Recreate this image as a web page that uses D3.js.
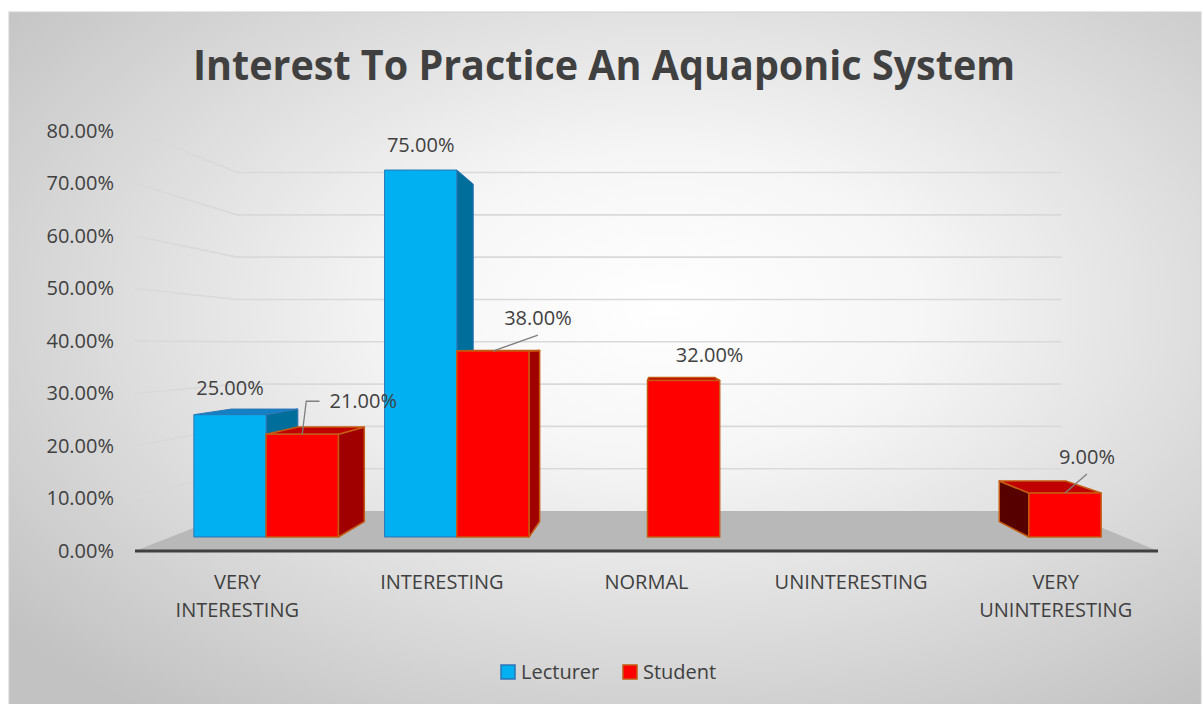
<!DOCTYPE html>
<html>
<head>
<meta charset="utf-8">
<script src="https://cdn.jsdelivr.net/npm/d3@7"></script>
<style>
  body { margin: 0; background: #fff; }
  text { font-family: 'Open Sans', sans-serif; fill: #404040; }
</style>
</head>
<body>
<div id="chart"></div>
<script>
// data
const categories = [['VERY', 'INTERESTING'], ['INTERESTING'], ['NORMAL'], ['UNINTERESTING'], ['VERY', 'UNINTERESTING']]
const seriesNames = ['Lecturer', 'Student']
const lecturer = [0.25, 0.75, null, null, null]
const student = [0.21, 0.38, 0.32, null, 0.09]
const yTicks = [0, 0.1, 0.2, 0.3, 0.4, 0.5, 0.6, 0.7, 0.8]

// label tweaks (offset from bar top, leader style)
const labelNudge = [
  [[0, -27], [0, -25], null, null, null],
  [[61, -33], [45, -33], [26, -25], null, [22, -36]]
]
const leaders = [
  [null, null, null, null, null],
  ['elbow', 'straight', null, null, 'straight']
]

const width = 1203
const height = 704

// fake 3d: everything is projected toward a vanishing point
const vp = {x: 661, y: 345}
const depth = {axis: 1, barFront: 0.932, barBack: 0.857, wall: 0.806}

function proj (X, Y, s) {
  return [vp.x + (X - vp.x) * s, vp.y + (Y - vp.y) * s]
}

const x0 = d3.scaleBand().domain(d3.range(categories.length)).range([135, 1158])
const x1 = d3.scaleBand().domain(seriesNames).range([0, x0.bandwidth()]).paddingInner(0).paddingOuter(0.32)
const y = d3.scaleLinear().domain([0, 0.8]).range([551, 131])
const fmt = d3.format('.2%')

const colors = {
  Lecturer: {front: '#00b0f0', right: '#006e9a', left: '#005a80', top: '#1380c4', stroke: '#2e75b6'},
  Student: {front: '#ff0000', right: '#a00000', left: '#560000', top: '#c00000', stroke: '#c55a11'}
}

const svg = d3.select('#chart').append('svg')
    .attr('width', width)
    .attr('height', height)
    .style('display', 'block')

const defs = svg.append('defs')
const grad = defs.append('radialGradient')
    .attr('id', 'bg')
    .attr('cx', '55%').attr('cy', '42%').attr('r', '72%')
grad.append('stop').attr('offset', '0%').attr('stop-color', '#ffffff')
grad.append('stop').attr('offset', '30%').attr('stop-color', '#f6f6f6')
grad.append('stop').attr('offset', '100%').attr('stop-color', '#c2c2c2')

svg.append('rect')
    .attr('x', 9).attr('y', 12)
    .attr('width', 1192).attr('height', 700)
    .attr('fill', 'url(#bg)')
    .attr('stroke', '#d0d0d0')

// title
svg.append('text')
    .attr('x', 604).attr('y', 80)
    .attr('text-anchor', 'middle')
    .attr('font-size', 42)
    .attr('font-weight', 'bold')
    .attr('textLength', 822)
    .attr('lengthAdjust', 'spacingAndGlyphs')
    .text('Interest To Practice An Aquaponic System')

const line = d3.line()
const left = x0.range()[0]
const right = x0.range()[1]

// gridlines on left wall and back wall
const grid = svg.append('g')
    .attr('fill', 'none')
    .attr('stroke', '#d9d9d9')
    .attr('stroke-width', 1.6)

grid.selectAll('path')
  .data(yTicks.filter(d => d > 0))
  .join('path')
    .attr('d', d => line([
      proj(left, y(d), depth.axis),
      proj(left, y(d), depth.wall),
      proj(right, y(d), depth.wall)
    ]))

// floor
svg.append('path')
    .attr('fill', '#b8b8b8')
    .attr('d', line([
      proj(left, y(0), depth.axis),
      proj(left, y(0), depth.wall),
      proj(right, y(0), depth.wall),
      proj(right, y(0), depth.axis)
    ]) + 'Z')

svg.append('line')
    .attr('x1', left).attr('x2', right)
    .attr('y1', y(0)).attr('y2', y(0))
    .attr('stroke', '#404040')
    .attr('stroke-width', 3)

// y axis labels
const yAxis = d3.axisLeft(y)
    .tickValues(yTicks)
    .tickFormat(fmt)
    .tickSize(0)
    .tickPadding(21)

svg.append('g')
    .attr('transform', `translate(${left},0)`)
    .call(yAxis)
    .call(g => g.select('.domain').remove())
    .selectAll('text')
    .attr('font-size', 20)
    .attr('font-family', null)
    .attr('fill', '#404040')

// category labels
svg.append('g').selectAll('text')
  .data(categories)
  .join('text')
    .attr('text-anchor', 'middle')
    .attr('font-size', 20)
    .attr('x', (d, i) => x0(i) + x0.bandwidth() / 2)
    .attr('y', 589)
  .selectAll('tspan')
  .data(d => d)
  .join('tspan')
    .attr('x', function () { return this.parentNode.getAttribute('x') })
    .attr('dy', (d, i) => i ? 28 : 0)
    .text(d => d)

// bars
const bars = []
;[lecturer, student].forEach((vals, si) => {
  const name = seriesNames[si]
  vals.forEach((v, ci) => {
    if (v == null) return
    const xl = x0(ci) + x1(name)
    const xr = xl + x1.bandwidth()
    bars.push({name, si, ci, v, xl, xr})
  })
})
bars.sort((a, b) => Math.abs((b.xl + b.xr) / 2 - vp.x) - Math.abs((a.xl + a.xr) / 2 - vp.x))

const barG = svg.append('g')
bars.forEach(b => {
  const c = colors[b.name]
  const yt = y(b.v)
  const y0 = y(0)
  const g = barG.append('g')
      .attr('stroke', c.stroke)
      .attr('stroke-width', b.name === 'Student' ? 1.5 : 1)
      .attr('stroke-linejoin', 'round')
  const face = (pts, fill) => g.append('path').attr('fill', fill).attr('d', line(pts) + 'Z')
  if (b.xr < vp.x) {
    face([proj(b.xr, y0, depth.barFront), proj(b.xr, yt, depth.barFront),
      proj(b.xr, yt, depth.barBack), proj(b.xr, y0, depth.barBack)], c.right)
  }
  if (b.xl > vp.x) {
    face([proj(b.xl, y0, depth.barFront), proj(b.xl, yt, depth.barFront),
      proj(b.xl, yt, depth.barBack), proj(b.xl, y0, depth.barBack)], c.left)
  }
  if (yt > vp.y) {
    face([proj(b.xl, yt, depth.barFront), proj(b.xr, yt, depth.barFront),
      proj(b.xr, yt, depth.barBack), proj(b.xl, yt, depth.barBack)], c.top)
  }
  face([proj(b.xl, y0, depth.barFront), proj(b.xl, yt, depth.barFront),
    proj(b.xr, yt, depth.barFront), proj(b.xr, y0, depth.barFront)], c.front)
})

// data labels with leader lines
const labelG = svg.append('g')
bars.forEach(b => {
  const nudge = labelNudge[b.si][b.ci]
  const top = proj((b.xl + b.xr) / 2, y(b.v), depth.barFront)
  const lx = top[0] + nudge[0]
  const ly = top[1] + nudge[1]
  const t = labelG.append('text')
      .attr('x', lx).attr('y', ly)
      .attr('dy', '0.35em')
      .attr('text-anchor', 'middle')
      .attr('font-size', 20)
      .text(fmt(b.v))
  const kind = leaders[b.si][b.ci]
  if (!kind) return
  const w = t.node().getComputedTextLength()
  let pts
  if (kind === 'elbow') {
    pts = [top, [top[0] + 4, ly], [lx - w / 2 - 10, ly]]
  } else {
    pts = [top, [lx, ly + 17]]
  }
  labelG.append('path')
      .attr('d', line(pts))
      .attr('fill', 'none')
      .attr('stroke', '#7f7f7f')
      .attr('stroke-width', 1.3)
})

// legend
const legend = svg.append('g')
    .selectAll('g')
    .data(seriesNames)
    .join('g')
    .attr('transform', (d, i) => `translate(${501 + i * 122},665)`)

legend.append('rect')
    .attr('width', 14).attr('height', 14)
    .attr('fill', d => colors[d].front)
    .attr('stroke', d => colors[d].stroke)
    .attr('stroke-width', 1.5)

legend.append('text')
    .attr('x', 20).attr('y', 7)
    .attr('dy', '0.35em')
    .attr('font-size', 20)
    .text(d => d)
</script>
</body>
</html>
